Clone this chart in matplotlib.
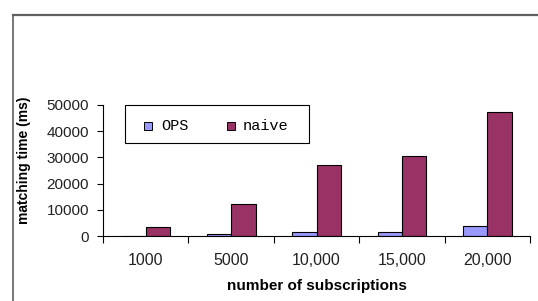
import matplotlib
matplotlib.use("Agg")
import matplotlib.pyplot as plt
import numpy as np
from matplotlib.patches import Rectangle
from matplotlib.lines import Line2D

categories = ["1000", "5000", "10,000", "15,000", "20,000"]
ops = [100, 700, 1700, 1700, 3900]
naive = [3500, 12200, 27200, 30400, 47400]
yticks = [0, 10000, 20000, 30000, 40000, 50000]
series_names = ["OPS", "naive"]
colors = ["#9999FF", "#993366"]

W, H = 538, 301
fig = plt.figure(figsize=(W / 100, H / 100), dpi=100)
plt.rcParams['font.family'] = ['Liberation Sans', 'DejaVu Sans']

def fx(px):
    return px / W

def fy(py):
    return 1 - py / H

# outer chart border (left and top)
fig.add_artist(Line2D([fx(13), fx(13)], [0, fy(15)], color="#606060", lw=1.2, transform=fig.transFigure))
fig.add_artist(Line2D([fx(13), 1], [fy(15), fy(15)], color="#606060", lw=1.6, transform=fig.transFigure))

ax = fig.add_axes([fx(103), fy(236), fx(530 - 103), (236 - 105) / H])
x = np.arange(len(categories))
bw = 1 / 3.5
ax.bar(x - bw / 2, ops, width=bw, color=colors[0], edgecolor="black", linewidth=0.8)
ax.bar(x + bw / 2, naive, width=bw, color=colors[1], edgecolor="black", linewidth=0.8)

ax.set_xlim(-0.5, len(categories) - 0.5)
ax.set_ylim(0, 50000)
ax.set_yticks(yticks)
ax.set_yticklabels([str(v) for v in yticks], fontsize=11, color="#222222")
ax.set_xticks(np.arange(len(categories) + 1) - 0.5)
ax.set_xticklabels([])
ax.set_xticks(x, minor=True)
ax.set_xticklabels(categories, minor=True, fontsize=11.5, color="#222222")
ax.tick_params(axis="x", which="minor", length=0, pad=12)
ax.tick_params(axis="x", which="major", length=5, direction="out", width=0.8)
ax.tick_params(axis="y", length=4, direction="out", width=0.8, pad=6)
for s in ["top", "right"]:
    ax.spines[s].set_visible(False)
for s in ["left", "bottom"]:
    ax.spines[s].set_linewidth(0.8)

ax.set_ylabel("matching time (ms)", fontsize=10, fontweight="bold")
ax.yaxis.set_label_coords((31 - 103) / 427, (236 - 160) / 131)
ax.set_xlabel("number of subscriptions", fontsize=11, fontweight="bold", labelpad=8)

# legend box drawn manually in figure pixels
fig.add_artist(Rectangle((fx(125), fy(143)), fx(309 - 125), (143 - 105) / H, transform=fig.transFigure,
                         facecolor="white", edgecolor="black", linewidth=0.8))
patch_x = [144, 227]
text_x = [161, 243]
for px, tx, name, c in zip(patch_x, text_x, series_names, colors):
    fig.add_artist(Rectangle((fx(px), fy(130)), fx(8), 8 / H, transform=fig.transFigure,
                             facecolor=c, edgecolor="black", linewidth=0.7))
    fig.text(fx(tx), fy(126), name, family="Liberation Mono", fontsize=11, va="center", ha="left")

fig.savefig("out.png", dpi=100)
